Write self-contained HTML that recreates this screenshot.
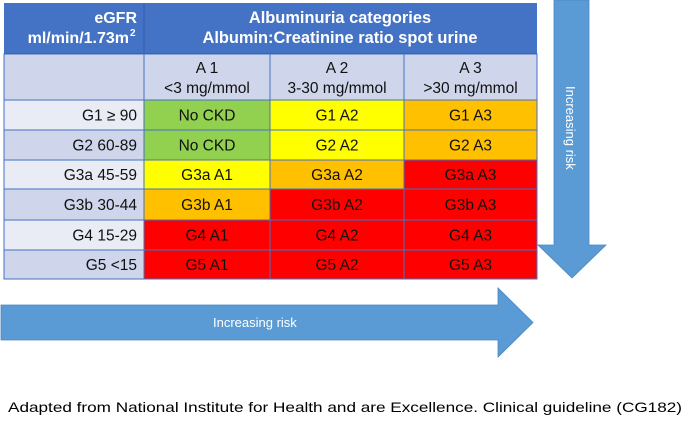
<!DOCTYPE html>
<html><head><meta charset="utf-8"><style>
body{margin:0;background:#fff;width:685px;height:417px;overflow:hidden}
svg text{font-family:"Liberation Sans",Arial,sans-serif}
</style></head><body>
<svg width="685" height="417" viewBox="0 0 685 417">
<g id="arrows">
  <polygon points="554,0 589,0 589,245 606,245 572,278 538,245 554,245" fill="#5B9BD5" stroke="#4A86C0" stroke-width="0.8"/>
  <text transform="translate(566,86) rotate(90)" font-size="13" fill="#fff">Increasing risk</text>
  <polygon points="1,305 498,305 498,288 533,322.5 498,357 498,340 1,340" fill="#5B9BD5" stroke="#4A86C0" stroke-width="0.8"/>
  <text x="213" y="327" font-size="13" fill="#fff">Increasing risk</text>
</g>
<g id="table"></g>
<text x="8" y="412" font-size="14" fill="#000" textLength="674" lengthAdjust="spacingAndGlyphs">Adapted from National Institute for Health and are Excellence. Clinical guideline (CG182)</text>
</svg>
<script>
const colLabels=[["A 1","<3 mg/mmol"],["A 2","3-30 mg/mmol"],["A 3",">30 mg/mmol"]];
const rowLabels=["G1 \u2265 90","G2 60-89","G3a 45-59","G3b 30-44","G4 15-29","G5 <15"];
const cellText=[["No CKD","G1 A2","G1 A3"],["No CKD","G2 A2","G2 A3"],["G3a A1","G3a A2","G3a A3"],["G3b A1","G3b A2","G3b A3"],["G4 A1","G4 A2","G4 A3"],["G5 A1","G5 A2","G5 A3"]];
const riskLevel=[[0,1,2],[0,1,2],[1,2,3],[2,3,3],[3,3,3],[3,3,3]];
const riskColors=["#92D050","#FFFF00","#FFC000","#FF0000"];
const NS="http://www.w3.org/2000/svg";
const g=document.getElementById('table');
const colX=[4,144,270,404,537];
const rowY=[100,130,160,189,220,250,279];
const FS=15.5;
function mk(tag,attrs,txt){const e=document.createElementNS(NS,tag);for(const k in attrs)e.setAttribute(k,attrs[k]);if(txt!==undefined)e.textContent=txt;g.appendChild(e);return e;}
let r=mk('rect',{x:4,y:3,width:533,height:51,fill:'#4472C4'});


mk('line',{x1:144,y1:3,x2:144,y2:54,stroke:'#3A62AE','stroke-width':1.2});
mk('line',{x1:4,y1:54,x2:537,y2:54,stroke:'#2F5597','stroke-width':2});
let t=mk('text',{x:137,y:23,'font-size':16,'font-weight':'bold',fill:'#fff','text-anchor':'end'},'eGFR');


t=mk('text',{x:129,y:43,'font-size':16,'font-weight':'bold',fill:'#fff','text-anchor':'end'},'ml/min/1.73m');


mk('text',{x:130,y:36,'font-size':10,'font-weight':'bold',fill:'#fff'},'2');
t=mk('text',{x:340,y:23,'font-size':16.4,'font-weight':'bold',fill:'#fff','text-anchor':'middle'},'Albuminuria categories');


t=mk('text',{x:340,y:43,'font-size':16.4,'font-weight':'bold',fill:'#fff','text-anchor':'middle'},'Albumin:Creatinine ratio spot urine');


r=mk('rect',{x:4,y:54,width:140,height:46,fill:'#CFD5EA',stroke:'#4472C4'});


colLabels.forEach((c,i)=>{
  const x0=colX[i+1],w=colX[i+2]-x0;
  const rr=mk('rect',{x:x0,y:54,width:w,height:46,fill:'#CFD5EA',stroke:'#4472C4'});
  
  
  mk('text',{x:x0+w/2,y:73,'font-size':FS,fill:'#111','text-anchor':'middle'},c[0]);
  mk('text',{x:x0+w/2,y:93,'font-size':FS,fill:'#111','text-anchor':'middle'},c[1]);
});
rowLabels.forEach((lab,ri)=>{
  const y0=rowY[ri],h=rowY[ri+1]-y0;
  const rr=mk('rect',{x:4,y:y0,width:140,height:h,fill:ri%2?'#CFD5EA':'#E9EBF5',stroke:'#4472C4'});
  
  
  mk('text',{x:137,y:y0+h/2+5.5,'font-size':FS,fill:'#111','text-anchor':'end'},lab);
  cellText[ri].forEach((txt,ci)=>{
    const x0=colX[ci+1],w=colX[ci+2]-x0;
    const lv=riskLevel[ri][ci];
    const c=mk('rect',{x:x0,y:y0,width:w,height:h,fill:riskColors[lv],stroke:'#4472C4'});
    
    
    mk('text',{x:x0+w/2,y:y0+h/2+5.5,'font-size':FS,fill:'#111','text-anchor':'middle'},txt);
  });
});
</script>
</body></html>
